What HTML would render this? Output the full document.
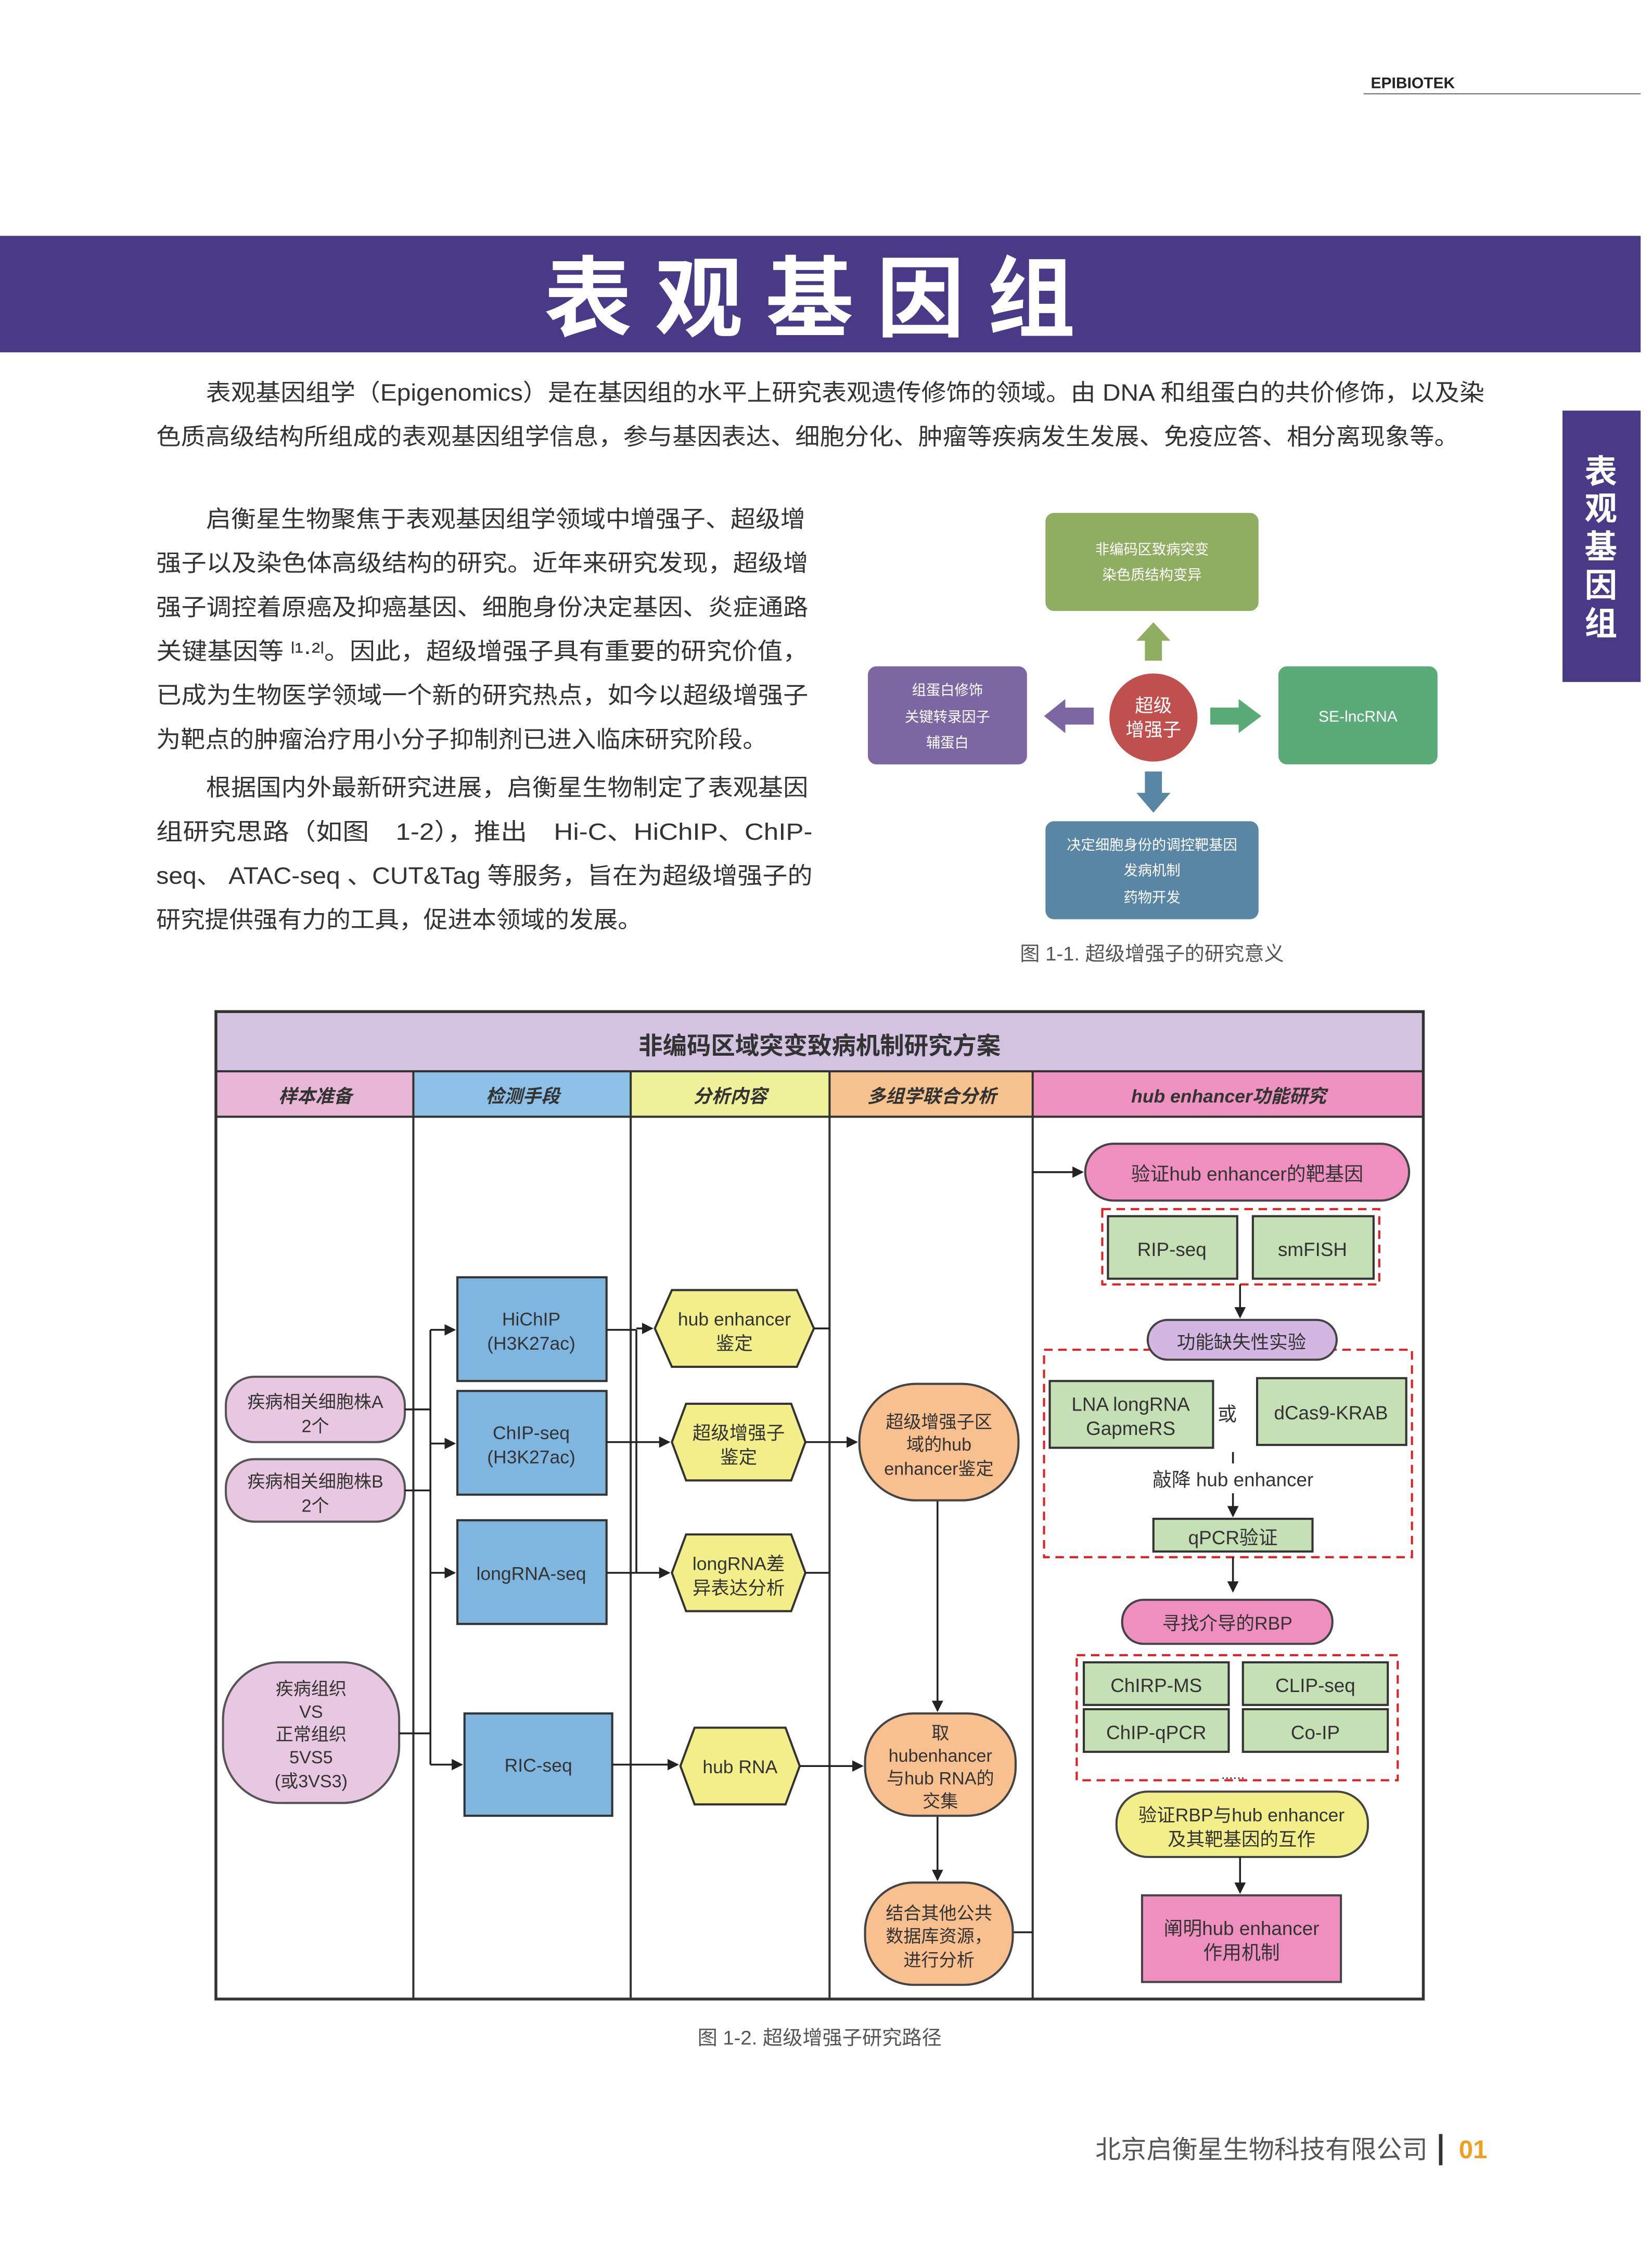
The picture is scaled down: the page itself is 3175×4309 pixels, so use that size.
<!DOCTYPE html>
<html><head><meta charset="utf-8">
<style>
html,body{margin:0;padding:0;background:#fff;}
svg{display:block;}
text{font-family:"Liberation Sans","Noto Sans CJK SC",sans-serif;}
</style></head>
<body>
<svg xmlns="http://www.w3.org/2000/svg" width="3175" height="4309" viewBox="0 0 1163 1578" preserveAspectRatio="none">
<defs>
<marker id="ah" markerWidth="8" markerHeight="8" refX="7" refY="4" orient="auto" markerUnits="userSpaceOnUse"><path d="M0,0 L8,4 L0,8 Z" fill="#222"/></marker>
</defs>
<rect width="1163" height="1578" fill="#fff"/>
<text x="965" y="62" font-size="11" fill="#222" font-weight="bold">EPIBIOTEK</text>
<line x1="960" y1="66" x2="1155" y2="66" stroke="#777" stroke-width="0.8"/>

<rect x="0" y="166" width="1155" height="82" fill="#493a87"/>
<text x="578" y="232" font-size="62" fill="#fff" font-weight="bold" text-anchor="middle" letter-spacing="16">表观基因组</text>
<rect x="1100" y="289" width="55" height="191" fill="#493a87"/>
<g font-size="23" fill="#fff" font-weight="bold" text-anchor="middle">
<text x="1127" y="340">表</text><text x="1127" y="366">观</text><text x="1127" y="393">基</text><text x="1127" y="420">因</text><text x="1127" y="447">组</text>
</g>

<g font-size="16.5" fill="#333">
<text x="145" y="282" textLength="900" lengthAdjust="spacingAndGlyphs">表观基因组学（Epigenomics）是在基因组的水平上研究表观遗传修饰的领域。由 DNA 和组蛋白的共价修饰，以及染</text>
<text x="110" y="313" textLength="917" lengthAdjust="spacingAndGlyphs">色质高级结构所组成的表观基因组学信息，参与基因表达、细胞分化、肿瘤等疾病发生发展、免疫应答、相分离现象等。</text>
<text x="145" y="371" textLength="422" lengthAdjust="spacingAndGlyphs">启衡星生物聚焦于表观基因组学领域中增强子、超级增</text>
<text x="110" y="402" textLength="459" lengthAdjust="spacingAndGlyphs">强子以及染色体高级结构的研究。近年来研究发现，超级增</text>
<text x="110" y="433" textLength="459" lengthAdjust="spacingAndGlyphs">强子调控着原癌及抑癌基因、细胞身份决定基因、炎症通路</text>
<text x="110" y="464" textLength="459" lengthAdjust="spacingAndGlyphs">关键基因等 ˡ¹·²ˡ。因此，超级增强子具有重要的研究价值，</text>
<text x="110" y="495" textLength="459" lengthAdjust="spacingAndGlyphs">已成为生物医学领域一个新的研究热点，如今以超级增强子</text>
<text x="110" y="526" textLength="430" lengthAdjust="spacingAndGlyphs">为靶点的肿瘤治疗用小分子抑制剂已进入临床研究阶段。</text>
<text x="145" y="560" textLength="424" lengthAdjust="spacingAndGlyphs">根据国内外最新研究进展，启衡星生物制定了表观基因</text>
<text x="110" y="591" textLength="462" lengthAdjust="spacingAndGlyphs">组研究思路（如图　1-2），推出　Hi-C、HiChIP、ChIP-</text>
<text x="110" y="622" textLength="462" lengthAdjust="spacingAndGlyphs">seq、 ATAC-seq 、CUT&amp;Tag 等服务，旨在为超级增强子的</text>
<text x="110" y="653" textLength="342" lengthAdjust="spacingAndGlyphs">研究提供强有力的工具，促进本领域的发展。</text>
</g>

<!-- Fig 1-1 -->
<rect x="736" y="361" width="150" height="69" rx="6" fill="#8fae62"/>
<g font-size="10" fill="#fff" text-anchor="middle">
<text x="811" y="390">非编码区致病突变</text><text x="811" y="408">染色质结构变异</text>
</g>
<path d="M806,465 L806,451 L800,451 L812,438 L824,451 L818,451 L818,465 Z" fill="#8fae62"/>
<rect x="611" y="469" width="112" height="69" rx="6" fill="#7d67a3"/>
<g font-size="10" fill="#fff" text-anchor="middle">
<text x="667" y="489">组蛋白修饰</text><text x="667" y="508">关键转录因子</text><text x="667" y="526">辅蛋白</text>
</g>
<path d="M770,498 L750,498 L750,492 L735,504 L750,516 L750,510 L770,510 Z" fill="#7d67a3"/>
<circle cx="812" cy="505" r="32" fill="#c0504d" stroke="#fff" stroke-width="2"/>
<text x="812" y="501" font-size="13" fill="#fff" text-anchor="middle">超级</text>
<text x="812" y="518" font-size="13" fill="#fff" text-anchor="middle">增强子</text>
<path d="M852,498 L872,498 L872,492 L888,504 L872,516 L872,510 L852,510 Z" fill="#5aab78"/>
<rect x="900" y="469" width="112" height="69" rx="6" fill="#5aab78"/>
<text x="956" y="508" font-size="11" fill="#fff" text-anchor="middle">SE-lncRNA</text>
<path d="M806,543 L806,558 L800,558 L812,572 L824,558 L818,558 L818,543 Z" fill="#5a86a6"/>
<rect x="736" y="578" width="150" height="69" rx="6" fill="#5a86a6"/>
<g font-size="10" fill="#fff" text-anchor="middle">
<text x="811" y="598">决定细胞身份的调控靶基因</text><text x="811" y="616">发病机制</text><text x="811" y="635">药物开发</text>
</g>
<text x="811" y="676" font-size="14" fill="#555" text-anchor="middle">图 1-1. 超级增强子的研究意义</text>

<!-- Fig 1-2 -->
<rect x="152" y="712" width="850" height="42" fill="#d4c3e0"/>
<text x="577" y="742" font-size="17" font-weight="bold" fill="#333" text-anchor="middle">非编码区域突变致病机制研究方案</text>
<rect x="152" y="754" width="139" height="32" fill="#e8b7d6"/>
<rect x="291" y="754" width="153" height="32" fill="#8dc0e6"/>
<rect x="444" y="754" width="140" height="32" fill="#eef09a"/>
<rect x="584" y="754" width="143" height="32" fill="#f6c28e"/>
<rect x="727" y="754" width="275" height="32" fill="#ee93c0"/>
<g font-size="13" font-weight="bold" font-style="italic" fill="#333" text-anchor="middle">
<text x="222" y="776">样本准备</text><text x="368" y="776">检测手段</text><text x="514" y="776">分析内容</text><text x="656" y="776">多组学联合分析</text><text x="865" y="776">hub enhancer功能研究</text>
</g>
<g stroke="#333" stroke-width="1.5" fill="none">
<line x1="152" y1="754" x2="1002" y2="754"/>
<line x1="152" y1="786" x2="1002" y2="786"/>
<line x1="291" y1="754" x2="291" y2="1407"/>
<line x1="444" y1="754" x2="444" y2="1407"/>
<line x1="584" y1="754" x2="584" y2="1407"/>
<line x1="727" y1="754" x2="727" y2="1407"/>
</g>
<rect x="152" y="712" width="850" height="695" fill="none" stroke="#333" stroke-width="2"/>

<!-- col1 -->
<g stroke="#555" stroke-width="1.5" fill="#e8c8e0">
<rect x="159" y="969" width="126" height="46" rx="20"/>
<rect x="159" y="1027" width="126" height="44" rx="20"/>
<rect x="157" y="1170" width="124" height="99" rx="40"/>
</g>
<g font-size="12.5" fill="#333" text-anchor="middle">
<text x="222" y="991">疾病相关细胞株A</text><text x="222" y="1008">2个</text>
<text x="222" y="1047">疾病相关细胞株B</text><text x="222" y="1064">2个</text>
<text x="219" y="1193">疾病组织</text><text x="219" y="1209">VS</text><text x="219" y="1225">正常组织</text><text x="219" y="1241">5VS5</text><text x="219" y="1258">(或3VS3)</text>
</g>
<g stroke="#222" stroke-width="1.3" fill="none">
<line x1="285" y1="992" x2="303" y2="992"/>
<line x1="285" y1="1049" x2="303" y2="1049"/>
<line x1="281" y1="1220" x2="303" y2="1220"/>
<line x1="303" y1="936" x2="303" y2="1242"/>
<line x1="303" y1="936" x2="320" y2="936" marker-end="url(#ah)"/>
<line x1="303" y1="1016" x2="320" y2="1016" marker-end="url(#ah)"/>
<line x1="303" y1="1107" x2="320" y2="1107" marker-end="url(#ah)"/>
<line x1="303" y1="1242" x2="325" y2="1242" marker-end="url(#ah)"/>
</g>
<!-- col2 -->
<g stroke="#333" stroke-width="1.5" fill="#7fb6e0">
<rect x="322" y="899" width="105" height="73"/>
<rect x="322" y="979" width="105" height="73"/>
<rect x="322" y="1070" width="105" height="73"/>
<rect x="327" y="1206" width="104" height="72"/>
</g>
<g font-size="13" fill="#333" text-anchor="middle">
<text x="374" y="933">HiChIP</text><text x="374" y="950">(H3K27ac)</text>
<text x="374" y="1013">ChIP-seq</text><text x="374" y="1030">(H3K27ac)</text>
<text x="374" y="1112">longRNA-seq</text>
<text x="379" y="1247">RIC-seq</text>
</g>
<g stroke="#222" stroke-width="1.3" fill="none">
<line x1="427" y1="936" x2="448" y2="936"/><line x1="448" y1="936" x2="448" y2="1107"/>
<line x1="448" y1="935" x2="459" y2="935" marker-end="url(#ah)"/>
<line x1="427" y1="1015" x2="471" y2="1015" marker-end="url(#ah)"/>
<line x1="427" y1="1107" x2="471" y2="1107" marker-end="url(#ah)"/>
<line x1="431" y1="1242" x2="477" y2="1242" marker-end="url(#ah)"/>
</g>
<!-- col3 hexagons -->
<g stroke="#333" stroke-width="1.5" fill="#f2ef8a">
<polygon points="473,908 561,908 573,935 561,962 473,962 461,935"/>
<polygon points="483,988 557,988 567,1015 557,1042 483,1042 473,1015"/>
<polygon points="483,1080 557,1080 567,1107 557,1134 483,1134 473,1107"/>
<polygon points="489,1216 553,1216 563,1243 553,1270 489,1270 479,1243"/>
</g>
<g font-size="13" fill="#333" text-anchor="middle">
<text x="517" y="933">hub enhancer</text><text x="517" y="950">鉴定</text>
<text x="520" y="1013">超级增强子</text><text x="520" y="1030">鉴定</text>
<text x="520" y="1105">longRNA差</text><text x="520" y="1122">异表达分析</text>
<text x="521" y="1248">hub RNA</text>
</g>
<g stroke="#222" stroke-width="1.3" fill="none">
<line x1="573" y1="935" x2="584" y2="935"/>
<line x1="567" y1="1107" x2="584" y2="1107"/>
<line x1="567" y1="1015" x2="603" y2="1015" marker-end="url(#ah)"/>
<line x1="563" y1="1243" x2="607" y2="1243" marker-end="url(#ah)"/>
<line x1="660" y1="1056" x2="660" y2="1204" marker-end="url(#ah)"/>
<line x1="660" y1="1278" x2="660" y2="1323" marker-end="url(#ah)"/>
<line x1="713" y1="1360" x2="727" y2="1360"/>
<line x1="727" y1="825" x2="762" y2="825" marker-end="url(#ah)"/>
</g>
<!-- col4 -->
<g stroke="#444" stroke-width="1.5" fill="#f9c08f">
<rect x="605" y="974" width="112" height="82" rx="40"/>
<rect x="609" y="1206" width="106" height="72" rx="34"/>
<rect x="609" y="1325" width="104" height="72" rx="34"/>
</g>
<g font-size="12.5" fill="#333" text-anchor="middle">
<text x="661" y="1005">超级增强子区</text><text x="661" y="1021">域的hub</text><text x="661" y="1038">enhancer鉴定</text>
<text x="662" y="1224">取</text><text x="662" y="1240">hubenhancer</text><text x="662" y="1256">与hub RNA的</text><text x="662" y="1272">交集</text>
<text x="661" y="1351">结合其他公共</text><text x="661" y="1367">数据库资源，</text><text x="661" y="1384">进行分析</text>
</g>
<!-- col5 -->
<rect x="764" y="805" width="228" height="40" rx="20" fill="#ef8fbf" stroke="#444" stroke-width="1.5"/>
<text x="878" y="831" font-size="13.5" fill="#333" text-anchor="middle">验证hub enhancer的靶基因</text>
<g stroke="#e02020" stroke-width="1.5" fill="none" stroke-dasharray="6,4">
<rect x="776" y="851" width="195" height="53"/>
<rect x="735" y="950" width="259" height="146"/>
<rect x="758" y="1165" width="226" height="88"/>
</g>
<g stroke="#333" stroke-width="1.5" fill="#c5e0b4">
<rect x="780" y="856" width="91" height="44"/>
<rect x="882" y="856" width="85" height="44"/>
<rect x="739" y="972" width="115" height="47"/>
<rect x="885" y="970" width="105" height="47"/>
<rect x="812" y="1069" width="112" height="23"/>
<rect x="763" y="1170" width="102" height="30"/>
<rect x="875" y="1170" width="102" height="30"/>
<rect x="763" y="1203" width="102" height="30"/>
<rect x="875" y="1203" width="102" height="30"/>
</g>
<g font-size="13.5" fill="#333" text-anchor="middle">
<text x="825" y="884">RIP-seq</text><text x="924" y="884">smFISH</text>
<text x="796" y="993">LNA longRNA</text><text x="796" y="1010">GapmeRS</text>
<text x="864" y="1000">或</text>
<text x="937" y="999">dCas9-KRAB</text>
<text x="868" y="1046">敲降 hub enhancer</text>
<text x="868" y="1087">qPCR验证</text>
<text x="814" y="1191">ChIRP-MS</text><text x="926" y="1191">CLIP-seq</text>
<text x="814" y="1224">ChIP-qPCR</text><text x="926" y="1224">Co-IP</text>
<text x="868" y="1252" font-size="10">......</text>
</g>
<rect x="808" y="929" width="133" height="28" rx="14" fill="#d4b6e2" stroke="#444" stroke-width="1.5"/>
<text x="874" y="949" font-size="13" fill="#333" text-anchor="middle">功能缺失性实验</text>
<rect x="790" y="1126" width="148" height="31" rx="15" fill="#ef8fbf" stroke="#444" stroke-width="1.5"/>
<text x="864" y="1147" font-size="13" fill="#333" text-anchor="middle">寻找介导的RBP</text>
<rect x="786" y="1261" width="177" height="46" rx="22" fill="#f2ef8a" stroke="#444" stroke-width="1.5"/>
<text x="874" y="1282" font-size="13" fill="#333" text-anchor="middle">验证RBP与hub enhancer</text>
<text x="874" y="1299" font-size="13" fill="#333" text-anchor="middle">及其靶基因的互作</text>
<rect x="804" y="1334" width="140" height="61" fill="#ef8fbf" stroke="#444" stroke-width="1.5"/>
<text x="874" y="1362" font-size="13.5" fill="#333" text-anchor="middle">阐明hub enhancer</text>
<text x="874" y="1379" font-size="13.5" fill="#333" text-anchor="middle">作用机制</text>
<g stroke="#222" stroke-width="1.3" fill="none">
<line x1="873" y1="904" x2="873" y2="927" marker-end="url(#ah)"/>
<line x1="868" y1="1022" x2="868" y2="1030"/>
<line x1="868" y1="1051" x2="868" y2="1067" marker-end="url(#ah)"/>
<line x1="868" y1="1096" x2="868" y2="1120" marker-end="url(#ah)"/>
<line x1="873" y1="1307" x2="873" y2="1332" marker-end="url(#ah)"/>
</g>
<text x="577" y="1439" font-size="14" fill="#555" text-anchor="middle">图 1-2. 超级增强子研究路径</text>

<text x="1005" y="1519" font-size="18" fill="#555" text-anchor="end">北京启衡星生物科技有限公司</text>
<rect x="1013" y="1502" width="2.5" height="22" fill="#333"/>
<text x="1027" y="1519" font-size="18" font-weight="bold" fill="#f0a020">01</text>
</svg>
</body></html>
